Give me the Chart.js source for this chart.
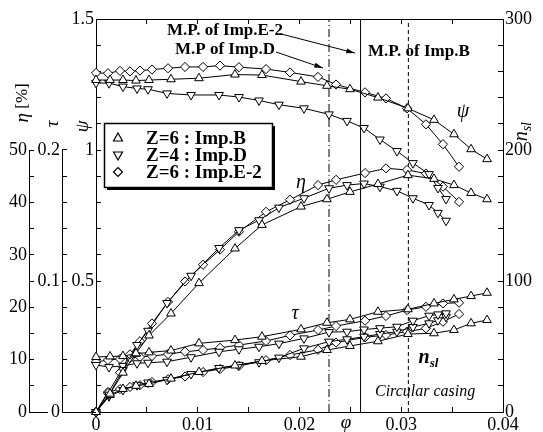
<!DOCTYPE html>
<html lang="en">
<head>
<meta charset="UTF-8" />
<title>Impeller performance</title>
<script src="https://cdn.jsdelivr.net/npm/chart.js"></script>
<style>
  html, body { margin: 0; padding: 0; background: #fff; }
  .chart-container { width: 543px; height: 432px; }
</style>
</head>
<body>
<div class="chart-container"><canvas id="perfChart"></canvas></div>
<script>
// Z=6 : Imp.B
const phiB = [0, 0.00138, 0.00265, 0.00393, 0.00521, 0.00737, 0.01012, 0.01366, 0.01631, 0.02015, 0.0227, 0.02496, 0.02771, 0.03066, 0.03322, 0.03518, 0.03686, 0.03843];
const psiB = [1.267, 1.267, 1.267, 1.265, 1.267, 1.270, 1.274, 1.288, 1.286, 1.261, 1.245, 1.232, 1.200, 1.159, 1.115, 1.060, 1.003, 0.965];
const etaB = [0, 3.5, 7.5, 11.2, 14.6, 18.8, 24.6, 31.2, 35.7, 39.2, 40.6, 42.0, 43.5, 45.2, 44.5, 43.3, 41.8, 40.6];
const tauB = [0.042, 0.0424, 0.0427, 0.0445, 0.0455, 0.0469, 0.0524, 0.0549, 0.0575, 0.0631, 0.0681, 0.0707, 0.0765, 0.0784, 0.0829, 0.086, 0.0885, 0.091];
const nslB = [0, 13, 17.6, 20, 21.4, 25.5, 30.5, 35.5, 39, 42.2, 47.3, 50.4, 54, 59.5, 60.1, 62.6, 67.7, 70.2];

// Z=4 : Imp.D
const phiD = [0, 0.00128, 0.00265, 0.00403, 0.00511, 0.00698, 0.00934, 0.01209, 0.01405, 0.01602, 0.01798, 0.02044, 0.0229, 0.02467, 0.02634, 0.02791, 0.02958, 0.03115, 0.03273, 0.03361, 0.0344];
const psiD = [1.256, 1.255, 1.242, 1.235, 1.232, 1.216, 1.210, 1.210, 1.202, 1.189, 1.173, 1.159, 1.136, 1.111, 1.084, 1.040, 0.996, 0.950, 0.908, 0.855, 0.813];
const etaD = [0, 3.3, 8.0, 12.8, 15.5, 20.8, 26.0, 31.3, 34.7, 36.6, 39.0, 40.8, 42.7, 43.3, 43.6, 43.0, 42.2, 40.8, 39.5, 38.0, 36.5];
const tauD = [0.0359, 0.0343, 0.0352, 0.0372, 0.0376, 0.0384, 0.0418, 0.046, 0.0479, 0.0498, 0.0522, 0.0562, 0.061, 0.0613, 0.063, 0.064, 0.0651, 0.0697, 0.0735, 0.0745, 0.0753];
const nslD = [0, 12, 16.8, 20.5, 22.5, 24.5, 29, 33.6, 36, 38, 41.5, 48.6, 53.7, 55.5, 57.5, 59.5, 61.3, 64.9, 67.7, 70, 72.7];

// Z=6 : Imp.E-2
const phiE = [0, 0.00118, 0.00236, 0.00334, 0.00432, 0.0055, 0.00708, 0.00875, 0.01052, 0.01219, 0.01405, 0.01671, 0.01907, 0.02182, 0.02359, 0.02644, 0.0285, 0.03057, 0.03243, 0.0341, 0.03568];
const psiE = [1.294, 1.293, 1.302, 1.300, 1.303, 1.307, 1.312, 1.317, 1.317, 1.322, 1.316, 1.309, 1.296, 1.279, 1.250, 1.220, 1.197, 1.159, 1.098, 1.022, 0.936];
const etaE = [0, 3.6, 7.5, 11.0, 13.5, 16.9, 21.0, 24.9, 28.1, 31.0, 34.4, 38.2, 40.5, 43.3, 44.3, 45.6, 46.5, 46.2, 45.5, 43.0, 40.1];
const tauE = [0.0382, 0.0397, 0.0405, 0.0412, 0.042, 0.0427, 0.0442, 0.046, 0.0473, 0.049, 0.0511, 0.0542, 0.0585, 0.0626, 0.0656, 0.0697, 0.0733, 0.0778, 0.0803, 0.0829, 0.0834];
const nslE = [0, 15.3, 17.5, 19.1, 20.5, 22.9, 25, 27.1, 30.5, 32.8, 35.1, 39.5, 43.5, 47.5, 53, 57, 58.8, 61.3, 63.9, 68.9, 74.8];

// maximum-pressure points: Imp.D, Imp.E-2, Imp.B
const mpPhi = [0.0229, 0.0260, 0.0307];

// tick positions and labelled ticks
const xTicks = [0, 0.005, 0.01, 0.015, 0.02, 0.025, 0.03, 0.035, 0.04];
const xLabels = [0, 0.01, 0.02, 0.03, 0.04];
const psiTicks = [0, 0.1, 0.2, 0.3, 0.4, 0.5, 0.6, 0.7, 0.8, 0.9, 1, 1.1, 1.2, 1.3, 1.4, 1.5];
const psiLabels = [0.5, 1, 1.5];
const etaTicks = [0, 5, 10, 15, 20, 25, 30, 35, 40, 45, 50];
const etaLabels = [0, 10, 20, 30, 40, 50];
const tauTicks = [0, 0.02, 0.04, 0.06, 0.08, 0.1, 0.12, 0.14, 0.16, 0.18, 0.2];
const tauLabels = [0, 0.1, 0.2];
const nslTicks = [0, 20, 40, 60, 80, 100, 120, 140, 160, 180, 200, 220, 240, 260, 280, 300];
const nslLabels = [0, 100, 200, 300];

const FONT = 'Liberation Serif';
const legendItems = ['Z=6 : Imp.B', 'Z=4 : Imp.D', 'Z=6 : Imp.E-2'];
const markers = [
  { style: 'triangle', rot: 0, r: 5 },
  { style: 'triangle', rot: 180, r: 5 },
  { style: 'rectRot', rot: 0, r: 4.6 }
];

function series(phi, vals, axis, m) {
  return {
    data: phi.map((p, i) => ({ x: p, y: vals[i] })),
    yAxisID: axis,
    showLine: true,
    borderColor: '#000',
    borderWidth: 1,
    tension: 0,
    pointStyle: m.style,
    pointRotation: m.rot,
    pointRadius: m.r,
    pointBackgroundColor: '#fff',
    pointBorderColor: '#000',
    pointBorderWidth: 1,
    clip: false
  };
}

function vline(phi, dash) {
  return {
    data: [{ x: phi, y: 0 }, { x: phi, y: 1.5 }],
    yAxisID: 'yPsi',
    showLine: true,
    borderColor: '#000',
    borderWidth: 1,
    borderDash: dash,
    pointRadius: 0
  };
}

const groups = [
  [phiB, psiB, etaB, tauB, nslB, markers[0]],
  [phiD, psiD, etaD, tauD, nslD, markers[1]],
  [phiE, psiE, etaE, tauE, nslE, markers[2]]
];
const datasets = [];
groups.forEach(([phi, psi, eta, tau, nsl, m]) => {
  datasets.push(series(phi, psi, 'yPsi', m));
  datasets.push(series(phi, eta, 'yEta', m));
  datasets.push(series(phi, tau, 'yTau', m));
  datasets.push(series(phi, nsl, 'yN', m));
});
datasets.push(vline(mpPhi[0], [8, 3, 1, 3]));
datasets.push(vline(mpPhi[1], []));
datasets.push(vline(mpPhi[2], [4, 3]));

const has = (list, v) => list.some(l => Math.abs(l - v) < 1e-9);

function axis(position, min, max, ticks, labels, size, extra) {
  const horizontal = position === 'top' || position === 'bottom';
  return Object.assign({
    type: 'linear',
    position: position,
    min: min,
    max: max,
    afterBuildTicks: s => { s.ticks = ticks.map(v => ({ value: v })); },
    afterFit: s => { if (horizontal) s.height = size; else s.width = size; },
    grid: { drawOnChartArea: false, color: '#000', tickLength: -5, lineWidth: 1 },
    border: { display: true, color: '#000', width: 1 },
    ticks: {
      autoSkip: false,
      maxRotation: 0,
      padding: 7,
      color: '#000',
      font: { family: FONT, size: 18 },
      callback: v => has(labels, v) ? String(v) : ''
    }
  }, extra || {});
}

// text, arrows, legend box and the short eta / tau axis lines
const decorations = {
  id: 'decorations',
  afterDraw(chart) {
    const { ctx, chartArea: area, scales } = chart;
    const x = scales.x, yPsi = scales.yPsi, yEta = scales.yEta, yTau = scales.yTau, yN = scales.yN;
    const px = v => x.getPixelForValue(v);
    const py = v => yPsi.getPixelForValue(v);
    const align = p => Math.round(p - 0.5) + 0.5;

    ctx.save();
    ctx.strokeStyle = '#000';
    ctx.fillStyle = '#000';
    ctx.lineWidth = 1;

    // eta and tau axes stop at their top labels
    [[yEta, 50], [yTau, 0.2]].forEach(([s, top]) => {
      const xx = align(s.right);
      ctx.beginPath();
      ctx.moveTo(xx, s.getPixelForValue(0));
      ctx.lineTo(xx, s.getPixelForValue(top));
      ctx.stroke();
    });
    // baseline between the left axes
    const yb = align(area.bottom);
    ctx.beginPath();
    ctx.moveTo(yEta.right, yb); ctx.lineTo(yTau.right - 14, yb);
    ctx.moveTo(yTau.right, yb); ctx.lineTo(area.left, yb);
    ctx.stroke();

    ctx.textBaseline = 'middle';

    function rotated(parts, cx, cy) {
      ctx.save();
      ctx.translate(cx, cy);
      ctx.rotate(-Math.PI / 2);
      let w = 0;
      parts.forEach(p => { ctx.font = p.font; w += ctx.measureText(p.text).width; });
      let cur = -w / 2;
      ctx.textAlign = 'left';
      parts.forEach(p => {
        ctx.font = p.font;
        ctx.fillText(p.text, cur, p.dy || 0);
        cur += ctx.measureText(p.text).width;
      });
      ctx.restore();
    }

    // axis titles
    rotated([{ text: 'η', font: `italic 19px ${FONT}` }, { text: ' [%]', font: `17px ${FONT}` }], yEta.right - 6, yEta.getPixelForValue(59));
    rotated([{ text: 'τ', font: `italic 19px ${FONT}` }], yTau.right - 9, yTau.getPixelForValue(0.22));
    rotated([{ text: 'ψ', font: `italic 19px ${FONT}` }], yPsi.right - 13, py(1.09));
    rotated([{ text: 'n', font: `italic 20px ${FONT}` }, { text: 'sl', font: `italic 14px ${FONT}`, dy: 5 }], yN.left + 19, yN.getPixelForValue(214));

    ctx.textAlign = 'center';
    ctx.font = `italic 19px ${FONT}`;
    ctx.fillText('φ', px(0.02457), area.bottom + 11);

    // curve labels
    ctx.font = `italic 20px ${FONT}`;
    ctx.fillText('ψ', px(0.03607), py(1.145));
    ctx.fillText('η', px(0.02015), py(0.874));
    ctx.fillText('τ', px(0.01956), py(0.374));
    ctx.textAlign = 'left';
    ctx.font = `bold italic 20px ${FONT}`;
    ctx.fillText('n', px(0.0317), py(0.205));
    const nw = ctx.measureText('n').width;
    ctx.font = `bold italic 13px ${FONT}`;
    ctx.fillText('sl', px(0.0317) + nw, py(0.205) + 5);
    ctx.font = `italic 16px ${FONT}`;
    ctx.fillText('Circular casing', px(0.02742), py(0.076));

    // maximum-pressure annotations
    ctx.font = `bold 17px ${FONT}`;
    ctx.fillText('M.P. of Imp.E-2', px(0.00698), py(1.454));
    ctx.fillText('M.P of Imp.D', px(0.00776), py(1.385));
    ctx.fillText('M.P. of Imp.B', px(0.02673), py(1.374));

    function arrow(x0, y0, x1, y1) {
      const a = Math.atan2(y1 - y0, x1 - x0);
      ctx.beginPath();
      ctx.moveTo(x0, y0); ctx.lineTo(x1, y1);
      ctx.stroke();
      ctx.beginPath();
      ctx.moveTo(x1, y1);
      ctx.lineTo(x1 - 9 * Math.cos(a - 0.28), y1 - 9 * Math.sin(a - 0.28));
      ctx.lineTo(x1 - 9 * Math.cos(a + 0.28), y1 - 9 * Math.sin(a + 0.28));
      ctx.closePath();
      ctx.fill();
    }
    arrow(px(0.01818), py(1.443), px(0.02545), py(1.370));
    arrow(px(0.01769), py(1.374), px(0.02231), py(1.313));

    // legend box with a drop shadow
    const bx = area.left + 8, by = area.top + 104, bw = 168, bh = 64;
    ctx.fillRect(bx + 3, by + 3, bw, bh);
    ctx.fillStyle = '#fff';
    ctx.fillRect(bx, by, bw, bh);
    ctx.fillStyle = '#000';
    ctx.lineWidth = 1.5;
    ctx.strokeRect(bx + 0.5, by + 0.5, bw, bh);
    ctx.lineWidth = 1.2;
    legendItems.forEach((txt, i) => {
      const cy = by + 15 + i * 17;
      const cx = bx + 14;
      ctx.beginPath();
      if (i === 0) {
        ctx.moveTo(cx, cy - 5); ctx.lineTo(cx + 4.5, cy + 3); ctx.lineTo(cx - 4.5, cy + 3);
      } else if (i === 1) {
        ctx.moveTo(cx, cy + 5); ctx.lineTo(cx + 4.5, cy - 3); ctx.lineTo(cx - 4.5, cy - 3);
      } else {
        ctx.moveTo(cx, cy - 4.5); ctx.lineTo(cx + 4.5, cy); ctx.lineTo(cx, cy + 4.5); ctx.lineTo(cx - 4.5, cy);
      }
      ctx.closePath();
      ctx.stroke();
      ctx.font = `bold 19px ${FONT}`;
      ctx.fillText(txt, bx + 42, cy + 1);
    });

    ctx.restore();
  }
};

new Chart(document.getElementById('perfChart'), {
  type: 'scatter',
  data: { datasets: datasets },
  options: {
    responsive: true,
    maintainAspectRatio: false,
    animation: false,
    layout: { padding: 0 },
    plugins: { legend: { display: false }, tooltip: { enabled: false } },
    scales: {
      x: axis('bottom', 0, 0.04, xTicks, xLabels, 20),
      xTop: axis('top', 0, 0.04, xTicks, [], 19, { ticks: { display: false } }),
      yPsi: axis('left', 0, 1.5, psiTicks, psiLabels, 34, { weight: 0 }),
      yTau: axis('left', 0, 0.3, tauTicks, tauLabels, 33, { weight: 1, border: { display: false } }),
      yEta: axis('left', 0, 75, etaTicks, etaLabels, 29, { weight: 2, border: { display: false } }),
      yN: axis('right', 0, 300, nslTicks, nslLabels, 40)
    }
  },
  plugins: [decorations]
});
</script>
</body>
</html>
